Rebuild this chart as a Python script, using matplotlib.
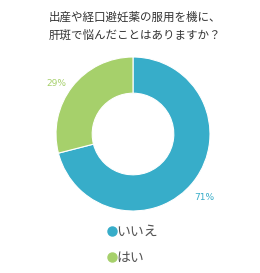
import matplotlib
matplotlib.use("Agg")
import matplotlib.pyplot as plt
from matplotlib.lines import Line2D

plt.rcParams['font.family'] = ['Noto Sans CJK JP', 'DejaVu Sans']

categories = ['いいえ', 'はい']
values = [71, 29]
colors = ['#37adc9', '#a6d06b']
title = '出産や経口避妊薬の服用を機に、\n肝斑で悩んだことはありますか？'

W, H = 260, 273
fig = plt.figure(figsize=(W/100, H/100), dpi=100)
cx, cy, r = 133, 134, 77
ax = fig.add_axes([(cx-r)/W, (H-cy-r)/H, 2*r/W, 2*r/H])
wedges, _ = ax.pie(values, colors=colors, startangle=90, counterclock=False,
                   radius=1, wedgeprops=dict(width=0.47, edgecolor='white', linewidth=0.8))
ax.set_xlim(-1, 1)
ax.set_ylim(-1, 1)
ax.axis('off')

label_pos = [(0.92, -0.82), (-1.0, 0.66)]
for v, c, (x, y) in zip(values, colors, label_pos):
    ax.text(x, y, f'{v}%', color=c, fontsize=6.5, ha='center', va='center',
            family='DejaVu Sans', clip_on=False)

fig.text(0.52, 1-26/H, title, ha='center', va='center', fontsize=8.3,
         color='#333333', linespacing=1.5)

handles = [Line2D([], [], marker='o', linestyle='', markersize=6.5,
                  markerfacecolor=c, markeredgecolor=c) for c in colors]
fig.legend(handles, categories, loc='center', bbox_to_anchor=(0.505, 1-245/H),
           frameon=False, fontsize=10, handletextpad=-0.2, labelspacing=0.85,
           handlelength=1.0, labelcolor='#555555')

fig.savefig('out.png', dpi=100)
